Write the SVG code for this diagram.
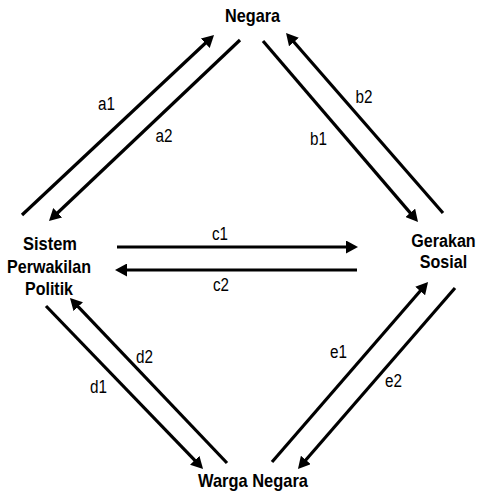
<svg xmlns="http://www.w3.org/2000/svg" width="480" height="495" viewBox="0 0 480 495">
<style>
.node{font-family:"Liberation Sans",Arial,sans-serif;font-weight:bold;font-size:18.5px;fill:#000;text-anchor:middle}
.lbl{font-family:"Liberation Sans",Arial,sans-serif;font-size:18px;fill:#000;text-anchor:middle}
.ln{stroke:#000;stroke-width:3.2;fill:none;marker-end:url(#ah)}
</style>
<defs>
<marker id="ah" viewBox="0 0 12 13" refX="4" refY="6.5" markerWidth="12" markerHeight="13" markerUnits="userSpaceOnUse" orient="auto">
<path d="M0,0 L12,6.5 L0,13 Z" fill="#000"/>
</marker>
</defs>
<rect width="480" height="495" fill="#fff"/>
<g id="negara"><text class="node" x="252.5" y="22" textLength="55" lengthAdjust="spacingAndGlyphs">Negara</text></g>
<g id="sistem">
<text class="node" x="50" y="250" textLength="54" lengthAdjust="spacingAndGlyphs">Sistem</text>
<text class="node" x="49" y="273" textLength="84" lengthAdjust="spacingAndGlyphs">Perwakilan</text>
<text class="node" x="49" y="295" textLength="48" lengthAdjust="spacingAndGlyphs">Politik</text>
</g>
<g id="gerakan" transform="translate(443.5,0) scale(0.87,1)">
<text class="node" x="0" y="247">Gerakan</text>
<text class="node" x="0" y="268">Sosial</text>
</g>
<g id="warga"><text class="node" x="253" y="487" textLength="110" lengthAdjust="spacingAndGlyphs">Warga Negara</text></g>
<g id="connectors">
<line class="ln" x1="22" y1="215" x2="208.2" y2="40.5"/>
<line class="ln" x1="240" y1="40" x2="54.8" y2="215.5"/>
<line class="ln" x1="263" y1="41" x2="412.8" y2="215.9"/>
<line class="ln" x1="443" y1="213" x2="291.3" y2="39"/>
<line class="ln" x1="117" y1="247" x2="350" y2="247"/>
<line class="ln" x1="357" y1="270" x2="123" y2="270"/>
<line class="ln" x1="46" y1="306" x2="197.5" y2="463.2"/>
<line class="ln" x1="227" y1="463" x2="75.5" y2="303.8"/>
<line class="ln" x1="272" y1="462" x2="422.8" y2="288"/>
<line class="ln" x1="455" y1="288" x2="303.2" y2="463"/>
<text class="lbl" x="106.5" y="110" textLength="17" lengthAdjust="spacingAndGlyphs">a1</text>
<text class="lbl" x="164" y="142" textLength="17" lengthAdjust="spacingAndGlyphs">a2</text>
<text class="lbl" x="318.5" y="145" textLength="17" lengthAdjust="spacingAndGlyphs">b1</text>
<text class="lbl" x="364" y="103" textLength="17" lengthAdjust="spacingAndGlyphs">b2</text>
<text class="lbl" x="220" y="240" textLength="16" lengthAdjust="spacingAndGlyphs">c1</text>
<text class="lbl" x="221" y="291" textLength="16" lengthAdjust="spacingAndGlyphs">c2</text>
<text class="lbl" x="98.5" y="393" textLength="17" lengthAdjust="spacingAndGlyphs">d1</text>
<text class="lbl" x="144.5" y="363" textLength="17" lengthAdjust="spacingAndGlyphs">d2</text>
<text class="lbl" x="338.5" y="358" textLength="17" lengthAdjust="spacingAndGlyphs">e1</text>
<text class="lbl" x="393.5" y="387" textLength="17" lengthAdjust="spacingAndGlyphs">e2</text>
</g>
</svg>
